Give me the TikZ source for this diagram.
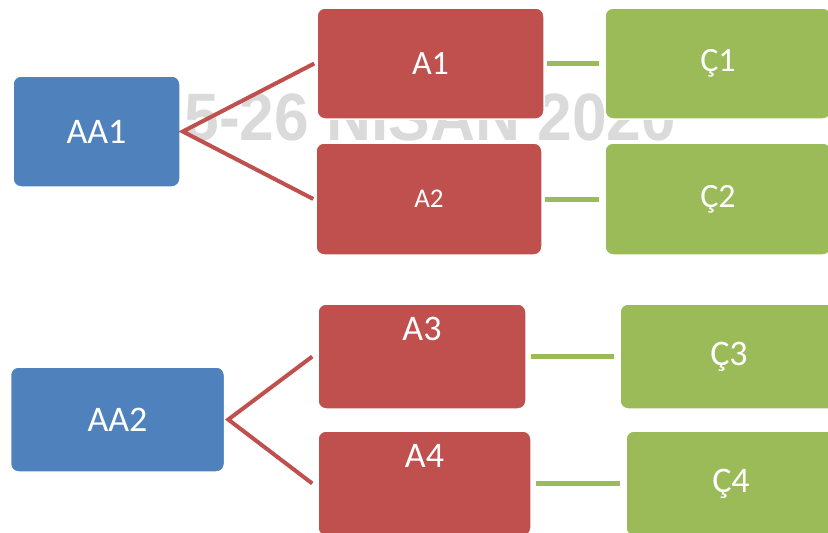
\documentclass[tikz,border=0pt]{standalone}
\usepackage{fontspec}
\setmainfont{Carlito}
\newfontfamily\wmfont{Liberation Sans}
\definecolor{boxblue}{HTML}{4F81BD}
\definecolor{boxred}{HTML}{C0504D}
\definecolor{boxgreen}{HTML}{9BBB59}
\definecolor{wmgray}{HTML}{DADADA}
\tikzset{
  card/.style={rectangle, rounded corners=8pt, draw=white, line width=1.5pt, inner sep=0pt, text=white, font=\fontsize{34}{36}\selectfont},
  bluecard/.style={card, fill=boxblue},
  redcard/.style={card, fill=boxred},
  greencard/.style={card, fill=boxgreen},
  topalign/.style={text height=36.5pt, text depth=68.5pt},
  redlink/.style={draw=boxred, line width=4pt, line join=miter},
  greenlink/.style={draw=boxgreen, line width=5pt}
}
\begin{document}
\begin{tikzpicture}[x=1pt,y=-1pt]
\useasboundingbox (0,0) rectangle (828,533);
\fill[white] (0,0) rectangle (828,533);
% watermark
\node[anchor=base, text=wmgray, inner sep=0pt, xscale=0.93, font=\wmfont\bfseries\fontsize{67}{70}\selectfont] (wm) at (413,140) {25-26 NİSAN 2020};
% top group
\node[bluecard, minimum width=167pt, minimum height=111pt, font=\fontsize{36}{38}\selectfont] (aa1) at (96.5,131.5) {AA1};
\node[redcard, minimum width=227pt, minimum height=111pt] (a1) at (430.5,63.5) {A1};
\node[redcard, minimum width=226pt, minimum height=112pt, font=\fontsize{27}{30}\selectfont] (a2) at (429,199) {A2};
\node[greencard, minimum width=226pt, minimum height=111pt] (c1) at (718,63.5) {Ç1};
\node[greencard, minimum width=226pt, minimum height=112pt] (c2) at (718,199) {Ç2};
\path[redlink] ([xshift=-2pt]a1.west) -- ([xshift=2pt]aa1.east) -- ([xshift=-2pt]a2.west);
\path[greenlink, shorten <=2pt, shorten >=5pt] (a1.east) -- (c1.west |- a1.east);
\path[greenlink, shorten <=2pt, shorten >=5pt] (a2.east) -- (c2.west |- a2.east);
% bottom group
\node[bluecard, minimum width=214pt, minimum height=105pt, font=\fontsize{36}{38}\selectfont] (aa2) at (117.5,419.5) {AA2};
\node[redcard, topalign, minimum width=208pt, minimum height=105pt, font=\fontsize{36}{38}\selectfont] (a3) at (422,356.5) {A3};
\node[redcard, topalign, minimum width=213pt, minimum height=105pt, font=\fontsize{36}{38}\selectfont] (a4) at (424.5,483.5) {A4};
\node[greencard, minimum width=218pt, minimum height=105pt, font=\fontsize{36}{38}\selectfont] (c3) at (729,356.5) {Ç3};
\node[greencard, minimum width=210pt, minimum height=105pt, font=\fontsize{36}{38}\selectfont] (c4) at (731,483.5) {Ç4};
\path[redlink] ([xshift=-5pt]a3.west) -- ([xshift=3pt]aa2.east) -- ([xshift=-5pt]a4.west);
\path[greenlink, shorten <=4pt, shorten >=5pt] (a3.east) -- (c3.west |- a3.east);
\path[greenlink, shorten <=4pt, shorten >=5pt] (a4.east) -- (c4.west |- a4.east);
\end{tikzpicture}
\end{document}
